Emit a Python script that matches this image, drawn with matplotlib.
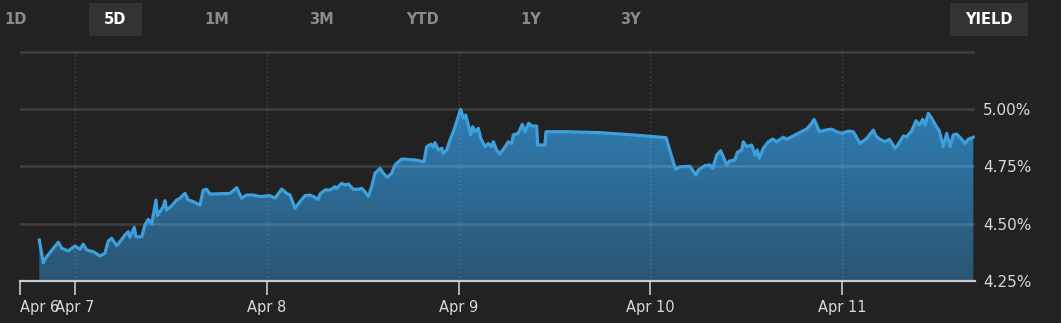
import matplotlib
matplotlib.use("Agg")
import matplotlib.pyplot as plt
import numpy as np
from matplotlib.colors import LinearSegmentedColormap
from matplotlib.patches import Polygon, Rectangle

# hours since Apr 7 00:00
hours = [-4.47, -3.97, -3.54, -2.09, -1.66, -0.84, 0.0, 0.63, 1.04, 1.46, 2.29, 3.13, 3.75, 4.17,
         4.59, 5.22, 5.63, 6.26, 6.67, 6.88, 7.42, 7.63, 8.35, 8.76, 9.17, 9.60, 10.14, 10.30,
         11.05, 11.26, 11.48, 12.10, 12.73, 13.14, 13.77, 14.18, 14.81, 15.64, 16.06, 16.48,
         16.90, 19.40, 20.24, 20.86, 21.49, 22.32, 23.15, 24.40, 25.03, 25.87, 26.50, 26.91,
         27.54, 28.16, 28.79, 29.41, 29.83, 30.45, 30.66, 31.29, 31.92, 32.54, 32.75, 33.38,
         33.79, 34.21, 34.83, 35.46, 35.88, 36.30, 36.71, 37.13, 37.55, 38.17, 38.59, 39.09,
         39.64, 40.05, 40.89, 42.55, 43.68, 44.02, 44.56, 44.84, 45.06, 45.47, 45.90, 46.10,
         46.52, 46.93, 47.35, 47.77, 48.27, 48.60, 48.90, 49.23, 49.53, 49.78, 50.06, 50.48,
         50.78, 51.32, 51.73, 52.16, 52.36, 52.78, 53.11, 53.61, 54.23, 54.66, 54.86, 55.48,
         55.98, 56.32, 56.78, 57.16, 57.78, 57.91, 58.82, 58.95, 61.54, 65.71, 69.88, 73.97,
         75.16, 75.72, 76.97, 77.72, 78.01, 78.85, 79.47, 79.81, 80.31, 80.81, 81.57, 81.89,
         82.60, 82.89, 83.44, 83.64, 84.07, 84.69, 85.11, 85.40, 85.65, 86.15, 86.77, 87.32,
         87.82, 88.65, 89.07, 91.58, 92.20, 92.49, 92.83, 93.15, 94.08, 94.71, 95.33, 95.96,
         96.78, 97.41, 98.25, 99.09, 99.91, 100.25, 100.75, 101.38, 101.92, 102.63, 102.84,
         103.67, 104.09, 104.72, 105.26, 105.67, 106.10, 106.38, 106.80, 107.22, 107.76,
         108.17, 108.67, 109.10, 109.51, 109.92, 110.35, 110.97, 111.39, 111.80, 112.43]

yield_pct = [4.429, 4.330, 4.356, 4.419, 4.393, 4.381, 4.403, 4.388, 4.411, 4.385, 4.378, 4.359,
             4.371, 4.424, 4.436, 4.404, 4.421, 4.451, 4.465, 4.441, 4.484, 4.443, 4.443, 4.494,
             4.519, 4.499, 4.603, 4.535, 4.574, 4.600, 4.560, 4.578, 4.603, 4.611, 4.632, 4.603,
             4.596, 4.581, 4.647, 4.650, 4.629, 4.632, 4.657, 4.611, 4.625, 4.625, 4.618, 4.622,
             4.611, 4.651, 4.632, 4.625, 4.567, 4.596, 4.622, 4.625, 4.618, 4.606, 4.629, 4.647,
             4.647, 4.661, 4.654, 4.676, 4.669, 4.673, 4.650, 4.650, 4.654, 4.639, 4.618, 4.661,
             4.720, 4.741, 4.720, 4.702, 4.720, 4.756, 4.782, 4.778, 4.770, 4.836, 4.847, 4.833,
             4.853, 4.821, 4.829, 4.807, 4.821, 4.865, 4.901, 4.945, 4.999, 4.960, 4.974, 4.930,
             4.887, 4.923, 4.901, 4.916, 4.872, 4.836, 4.850, 4.836, 4.857, 4.821, 4.804, 4.824,
             4.857, 4.850, 4.887, 4.894, 4.933, 4.901, 4.938, 4.926, 4.926, 4.843, 4.843, 4.901,
             4.901, 4.897, 4.887, 4.875, 4.737, 4.748, 4.750, 4.712, 4.734, 4.753, 4.756, 4.741,
             4.799, 4.818, 4.756, 4.773, 4.778, 4.811, 4.821, 4.857, 4.836, 4.843, 4.799, 4.821,
             4.785, 4.829, 4.857, 4.869, 4.857, 4.877, 4.868, 4.913, 4.938, 4.955, 4.930, 4.901,
             4.909, 4.912, 4.901, 4.894, 4.904, 4.901, 4.850, 4.872, 4.908, 4.882, 4.868, 4.857,
             4.868, 4.829, 4.836, 4.882, 4.879, 4.905, 4.949, 4.930, 4.955, 4.930, 4.981, 4.960,
             4.926, 4.905, 4.836, 4.894, 4.836, 4.887, 4.891, 4.868, 4.850, 4.868, 4.877]

day_labels = ["Apr 6", "Apr 7", "Apr 8", "Apr 9", "Apr 10", "Apr 11"]
day_hours = [-6.88, 0, 24, 48, 72, 96]
y_ticks = [4.25, 4.50, 4.75, 5.00]
y_tick_labels = ["4.25%", "4.50%", "4.75%", "5.00%"]
grid_levels = [4.50, 4.75, 5.00, 5.25]
range_buttons = ["1D", "5D", "1M", "3M", "YTD", "1Y", "3Y"]
active_button = "5D"

BG = "#222222"
W, H = 1061, 323
fig = plt.figure(figsize=(W / 100, H / 100), dpi=100, facecolor=BG)
ax = fig.add_axes([20 / W, 1 - 281 / H, 955 / W, 230 / H])
ax.set_facecolor(BG)
x0, x1 = -6.88, 112.64
y0, y1 = 4.25, 5.253

# gradient fill under line
verts = [(hours[0], y0)] + list(zip(hours, yield_pct)) + [(hours[-1], y0)]
poly = Polygon(verts, closed=True, facecolor="none", edgecolor="none")
ax.add_patch(poly)
grad = np.linspace(0, 1, 256).reshape(-1, 1)
cmap = LinearSegmentedColormap.from_list("g", ["#2a5572", "#2f7db4"])
im = ax.imshow(grad, extent=[x0, x1, y0, max(yield_pct)], origin="lower", cmap=cmap,
               aspect="auto", zorder=1, interpolation="bilinear")
im.set_clip_path(poly)

# grid
for g in grid_levels:
    ax.axhline(g, color=(1, 1, 1, 0.13), lw=1.8, zorder=2)
for d in day_hours[1:]:
    ax.axvline(d, color=(1, 1, 1, 0.16), lw=1.0, ls=(0, (1, 2)), zorder=2)

ax.plot(hours, yield_pct, color="#3d9fdc", lw=2.3, zorder=4, solid_joinstyle="round")

ax.set_xlim(x0, x1)
ax.set_ylim(y0, y1)

for s in ["top", "left", "right"]:
    ax.spines[s].set_visible(False)
ax.spines["bottom"].set_color("#c8c8c8")
ax.spines["bottom"].set_linewidth(1.6)
ax.spines["bottom"].set_zorder(5)

font = ["Liberation Sans Narrow", "DejaVu Sans"]
ax.set_xticks(day_hours)
ax.set_xticklabels(day_labels, family=font, fontsize=10.5, color="#d8d8d8")
ax.tick_params(axis="x", direction="out", length=10, width=1.2, color="#c8c8c8", pad=4)
ax.get_xticklabels()[0].set_ha("left")

ax.yaxis.tick_right()
ax.set_yticks(y_ticks)
ax.set_yticklabels(y_tick_labels, family=font, fontsize=11, color="#d8d8d8")
ax.tick_params(axis="y", length=0, pad=6)

# range selector buttons
btn_x = [16, 115, 217, 321, 423, 531, 630]
fig.patches.append(Rectangle((89 / W, 1 - 36 / H), 53 / W, 33 / H, transform=fig.transFigure,
                             facecolor="#333333", edgecolor="none", zorder=0))
fig.patches.append(Rectangle((950 / W, 1 - 36 / H), 78 / W, 33 / H, transform=fig.transFigure,
                             facecolor="#333333", edgecolor="none", zorder=0))
for lbl, bx in zip(range_buttons, btn_x):
    fig.text(bx / W, 1 - 20 / H, lbl, ha="center", va="center", fontsize=10.5, fontweight="bold",
             color="#ffffff" if lbl == active_button else "#8a8a8a")
fig.text(989 / W, 1 - 20 / H, "YIELD", ha="center", va="center", fontsize=10.5,
         fontweight="bold", color="#ffffff", family=font)

fig.savefig("out.png", dpi=100, facecolor=BG)
